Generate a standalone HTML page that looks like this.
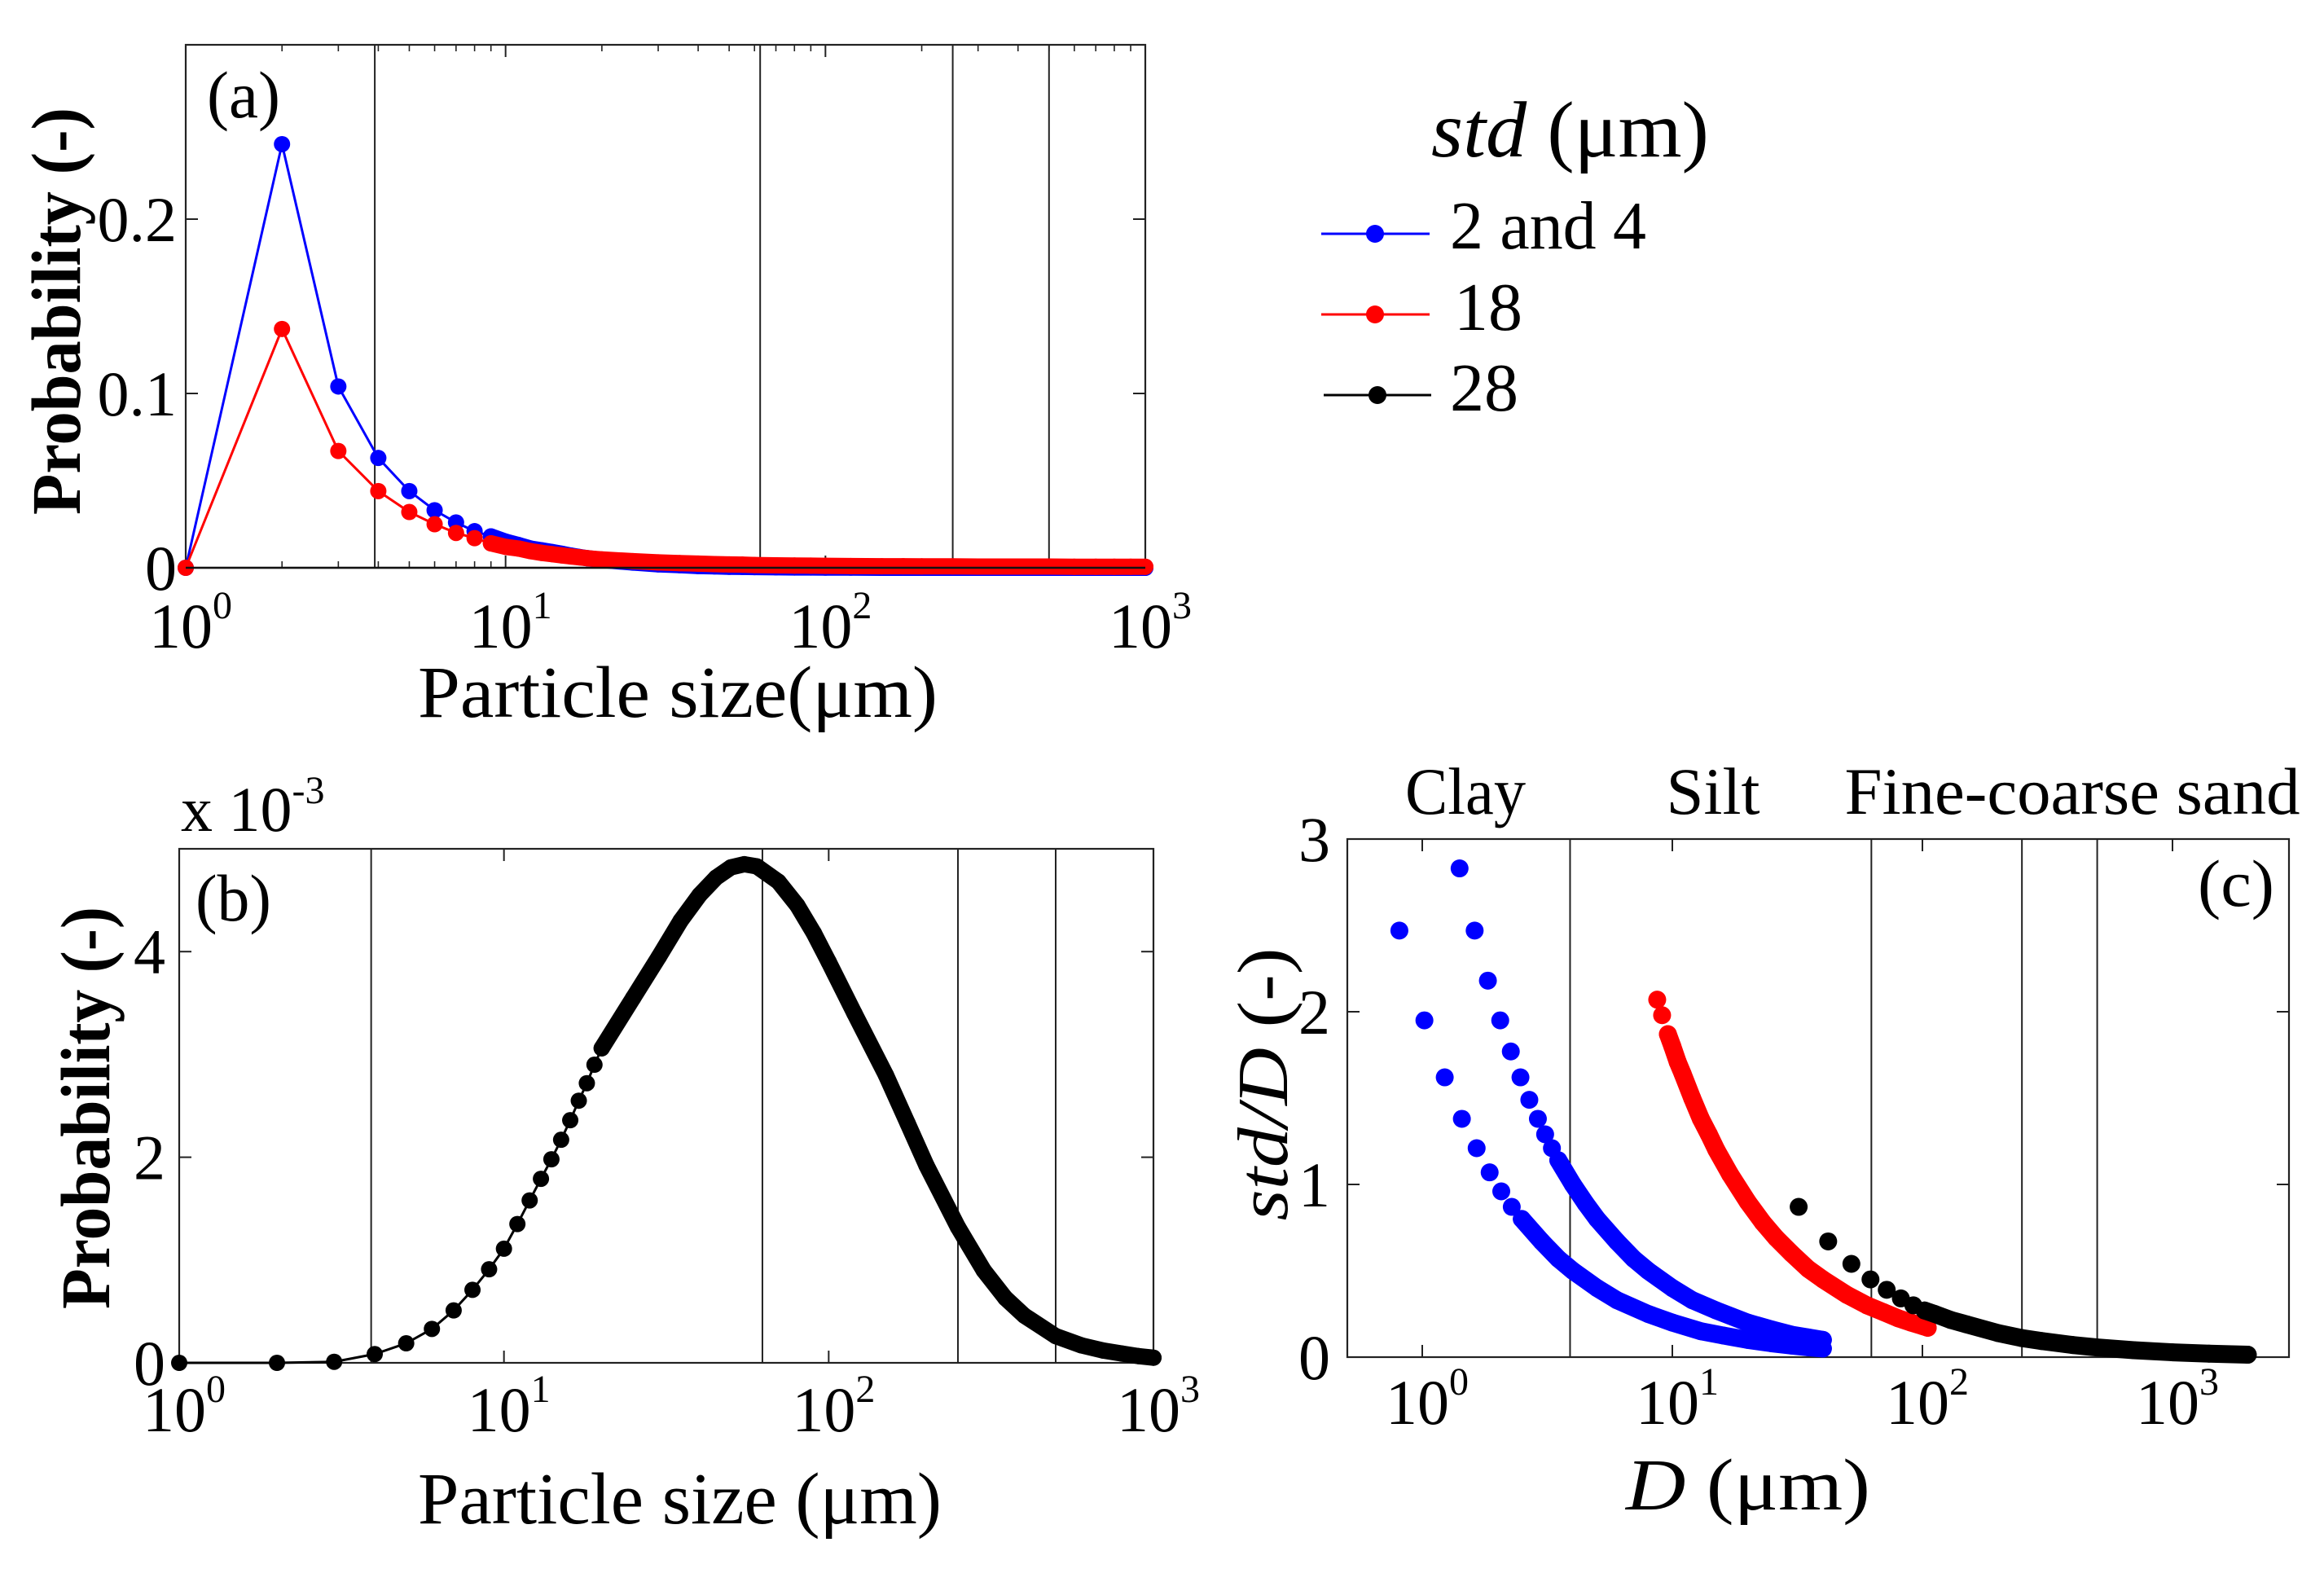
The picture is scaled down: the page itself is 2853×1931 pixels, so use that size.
<!DOCTYPE html>
<html><head><meta charset="utf-8"><style>
html,body{margin:0;padding:0;background:#fff;}
svg{display:block;font-family:"Liberation Serif",serif;}
</style></head><body>
<svg id="fig" width="2853" height="1931" viewBox="0 0 2853 1931" xmlns="http://www.w3.org/2000/svg">
<rect x="0" y="0" width="2853" height="1931" fill="#fff"/>
<g id="pa"></g>
<g id="pb"></g>
<g id="pc"></g>
<g id="legend">
  <text x="1757" y="192" font-size="98" textLength="341" lengthAdjust="spacingAndGlyphs"><tspan font-style="italic">std</tspan> (μm)</text>
  <g>
    <line x1="1622" y1="287" x2="1755" y2="287" stroke="#0000ff" stroke-width="3"/>
    <circle cx="1688" cy="287" r="11" fill="#0000ff"/>
    <text x="1780" y="305" font-size="84" textLength="241" lengthAdjust="spacingAndGlyphs">2 and 4</text>
  </g>
  <g>
    <line x1="1622" y1="386" x2="1755" y2="386" stroke="#ff0000" stroke-width="3"/>
    <circle cx="1688" cy="386" r="11" fill="#ff0000"/>
    <text x="1785" y="405" font-size="84">18</text>
  </g>
  <g>
    <line x1="1625" y1="485" x2="1757" y2="485" stroke="#000" stroke-width="3"/>
    <circle cx="1691" cy="485" r="11" fill="#000"/>
    <text x="1780" y="504" font-size="84">28</text>
  </g>
</g>
</svg>
<script>
// ---------- data ----------
const classBounds = [3.9, 62.5, 250, 500];
const sizeGrid = [1,2,3,4,5,6,7,8,9,10,11,12,13,14,15,16,17,18,19,20,25,30,35,40,45,50,55,60,70,80,90,100,120,150,175,200,250,300,350,400,500,600,700,800,900,1000];
const probBlue = [0,0.243,0.104,0.063,0.044,0.033,0.026,0.021,0.018,0.015,0.013,0.011,0.010,0.009,0.008,0.007,0.0062,0.0055,0.005,0.0045,0.003,0.002,0.0015,0.001,0.0008,0.0006,0.0005,0.0004,0.0003,0.0002,0.0002,0.0001,0.0001,0,0,0,0,0,0,0,0,0,0,0,0,0];
const probRed = [0,0.137,0.067,0.044,0.032,0.025,0.020,0.017,0.014,0.012,0.011,0.0095,0.0085,0.0078,0.0071,0.0065,0.006,0.0055,0.0051,0.0048,0.0038,0.0031,0.0027,0.0024,0.0021,0.0019,0.0018,0.0016,0.0014,0.0013,0.0012,0.0011,0.001,0.0009,0.0009,0.0008,0.0008,0.0007,0.0007,0.0007,0.0007,0.0006,0.0006,0.0006,0.0006,0.0006];
const probBlackE3 = [0,0,0.01,0.085,0.19,0.33,0.51,0.71,0.91,1.11,1.35,1.58,1.79,1.98,2.17,2.36,2.55,2.72,2.90,3.06,3.55,3.95,4.3,4.55,4.72,4.82,4.85,4.83,4.68,4.45,4.18,3.9,3.4,2.8,2.33,1.92,1.32,0.9,0.63,0.46,0.26,0.17,0.12,0.09,0.065,0.05];
const cBlueLowD = [0.81,1.02,1.23,1.44,1.65,1.86,2.07,2.28,2.5,3,3.5,4,5,6,8,10,13,16,20,25,30,35,40];
const cBlueLowV = [2.47,1.95,1.62,1.38,1.21,1.07,0.96,0.87,0.8,0.67,0.57,0.5,0.4,0.33,0.25,0.2,0.15,0.125,0.1,0.08,0.067,0.057,0.05];
const cBlueHighD = [1.41,1.62,1.83,2.05,2.26,2.47,2.68,2.9,3.1,3.3,3.5,4,4.5,5,6,7,8,10,12,15,20,25,30,35,40];
const cBlueHighV = [2.83,2.47,2.18,1.95,1.77,1.62,1.49,1.38,1.29,1.21,1.14,1.0,0.89,0.8,0.67,0.57,0.5,0.4,0.33,0.27,0.2,0.16,0.13,0.114,0.1];
const cRedD = [8.7,9.1,9.6,10,10.5,11,12,13,14,15,17,20,23,26,30,35,40,50,60,70,80,90,100,105];
const cRedV = [2.07,1.98,1.87,1.8,1.71,1.64,1.5,1.38,1.29,1.2,1.06,0.9,0.78,0.69,0.6,0.51,0.45,0.36,0.3,0.26,0.225,0.2,0.18,0.17];
const cBlackD = [32,42,52,62,72,82,92,102,112,130,150,200,250,300,400,500,700,1000,1400,2000];
const cBlackV = [0.87,0.67,0.54,0.45,0.39,0.34,0.30,0.27,0.25,0.215,0.19,0.14,0.11,0.093,0.07,0.056,0.04,0.028,0.02,0.014];
const yTicksA = [0, 0.1, 0.2];
const yTickLabelsA = ["0", "0.1", "0.2"];
const yTicksB = [0, 2, 4];
const yTicksC = [0, 1, 2, 3];
const decadeExps = [0, 1, 2, 3];

// ---------- helpers ----------
const NS = "http://www.w3.org/2000/svg";
function mk(parent, tag, attrs, text) {
  const e = document.createElementNS(NS, tag);
  for (const k in attrs) e.setAttribute(k, attrs[k]);
  if (text !== undefined) e.textContent = text;
  parent.appendChild(e);
  return e;
}
function logAxis(p0, p1, lo, hi) {
  const a = Math.log10(lo), b = Math.log10(hi);
  return v => p0 + (Math.log10(v) - a) / (b - a) * (p1 - p0);
}
function linAxis(p0, p1, lo, hi) { return v => p0 + (v - lo) / (hi - lo) * (p1 - p0); }

function drawFrame(g, F, sx, sy, yTicks, yLabels, xLo, xHi, minor, yLabelRight, xLabBase) {
  const fr = mk(g, "rect", {x:F.x0, y:F.y0, width:F.x1-F.x0, height:F.y1-F.y0, fill:"none", stroke:"#222", "stroke-width":2.2});
  
  
  classBounds.forEach(b => {
    const l = mk(g, "line", {x1:sx(b), x2:sx(b), y1:F.y0, y2:F.y1, stroke:"#222", "stroke-width":2});
    
    
  });
  yTicks.forEach((t, i) => {
    const y = sy(t);
    mk(g, "line", {x1:F.x0, x2:F.x0+15, y1:y, y2:y, stroke:"#222", "stroke-width":2});
    mk(g, "line", {x1:F.x1, x2:F.x1-15, y1:y, y2:y, stroke:"#222", "stroke-width":2});
    const tx = mk(g, "text", {x:yLabelRight, y:y+27, "font-size":78, "text-anchor":"end"}, yLabels[i]);
    
    
  });
  decadeExps.forEach(e => {
    const v = Math.pow(10, e);
    if (v < xLo * 0.999 || v > xHi * 1.001) return;
    const x = sx(v);
    mk(g, "line", {x1:x, x2:x, y1:F.y1, y2:F.y1-15, stroke:"#222", "stroke-width":2});
    mk(g, "line", {x1:x, x2:x, y1:F.y0, y2:F.y0+15, stroke:"#222", "stroke-width":2});
    const tx = mk(g, "text", {x:x+6, y:xLabBase, "font-size":78, "text-anchor":"middle"});
    
    
    mk(tx, "tspan", {}, "10");
    mk(tx, "tspan", {"font-size":48, dy:-36}, String(e));
    if (minor) {
      for (let m = 2; m <= 9; m++) {
        const mv = v * m;
        if (mv > xHi) break;
        const mx = sx(mv);
        mk(g, "line", {x1:mx, x2:mx, y1:F.y1, y2:F.y1-8, stroke:"#222", "stroke-width":1.6});
        mk(g, "line", {x1:mx, x2:mx, y1:F.y0, y2:F.y0+8, stroke:"#222", "stroke-width":1.6});
      }
    }
  });
}

function drawSeries(g, name, xs, ys, sx, sy, color, r, connect, denseFrom) {
  const s = mk(g, "g", {});
  
  
  const pts = xs.map((x, i) => [sx(x), sy(ys[i])]);
  if (connect) {
    mk(s, "polyline", {points: pts.map(p => p.join(",")).join(" "), fill:"none", stroke:color, "stroke-width":3});
  }
  const band = [];
  xs.forEach((x, i) => { if (x >= denseFrom) band.push(pts[i]); });
  if (band.length > 1) {
    mk(s, "polyline", {points: band.map(p => p.join(",")).join(" "), fill:"none", stroke:color, "stroke-width":2*r, "stroke-linecap":"round", "stroke-linejoin":"round"});
  }
  pts.forEach(p => {
    const c = mk(s, "circle", {cx:p[0], cy:p[1], r:r, fill:color});
    
    
  });
}

// ---------- panel a ----------
{
  const g = document.getElementById("pa");
  const F = {x0:228, x1:1406, y0:55, y1:697};
  const sx = logAxis(F.x0, F.x1, 1, 1000), sy = linAxis(F.y1, F.y0, 0, 0.3);
  drawFrame(g, F, sx, sy, yTicksA, yTickLabelsA, 1, 1000, true, 217, 795);
  drawSeries(g, "series-std-2-and-4", sizeGrid, probBlue, sx, sy, "#0000ff", 10, true, 9);
  drawSeries(g, "series-std-18", sizeGrid, probRed, sx, sy, "#ff0000", 10, true, 9);
  mk(g, "line", {x1:F.x0, x2:F.x1, y1:F.y1, y2:F.y1, stroke:"#111", "stroke-width":2.5});
  const pl = mk(g, "text", {x:254, y:144, "font-size":82, textLength:90, lengthAdjust:"spacingAndGlyphs"}, "(a)");
  
  
  const yl = mk(g, "text", {x:0, y:0, "font-size":86, "font-weight":"bold", "text-anchor":"middle", textLength:500, lengthAdjust:"spacingAndGlyphs", transform:"translate(98,382) rotate(-90)"}, "Probability (-)");
  
  
  const xl = mk(g, "text", {x:513, y:880, "font-size":90, textLength:638, lengthAdjust:"spacingAndGlyphs"}, "Particle size(μm)");
  
  
}

// ---------- panel b ----------
{
  const g = document.getElementById("pb");
  const F = {x0:220, x1:1416, y0:1042, y1:1673};
  const sx = logAxis(F.x0, F.x1, 1, 1000), sy = linAxis(F.y1, F.y0, 0, 5);
  drawFrame(g, F, sx, sy, yTicksB, yTicksB.map(String), 1, 1000, false, 203, 1757);
  drawSeries(g, "series-std-28", sizeGrid, probBlackE3, sx, sy, "#000", 10, true, 20);
  const ex = mk(g, "text", {x:222, y:1020, "font-size":78});
  
  
  mk(ex, "tspan", {}, "x 10");
  mk(ex, "tspan", {"font-size":48, dy:-34}, "-3");
  const pl = mk(g, "text", {x:240, y:1130, "font-size":82, textLength:93, lengthAdjust:"spacingAndGlyphs"}, "(b)");
  
  
  const yl = mk(g, "text", {x:0, y:0, "font-size":86, "font-weight":"bold", "text-anchor":"middle", textLength:494, lengthAdjust:"spacingAndGlyphs", transform:"translate(134,1360) rotate(-90)"}, "Probability (-)");
  
  
  const xl = mk(g, "text", {x:513, y:1870, "font-size":90, textLength:643, lengthAdjust:"spacingAndGlyphs"}, "Particle size (μm)");
  
  
}

// ---------- panel c ----------
{
  const g = document.getElementById("pc");
  const F = {x0:1654, x1:2810, y0:1030, y1:1666};
  const lo = Math.pow(10, (1654-1746)/307), hi = Math.pow(10, (2810-1746)/307);
  const sx = logAxis(F.x0, F.x1, lo, hi), sy = linAxis(F.y1, F.y0, 0, 3);
  drawFrame(g, F, sx, sy, yTicksC, yTicksC.map(String), lo, hi, false, 1633, 1748);
  drawSeries(g, "series-std-2", cBlueLowD, cBlueLowV, sx, sy, "#0000ff", 11, false, 2.4);
  drawSeries(g, "series-std-4", cBlueHighD, cBlueHighV, sx, sy, "#0000ff", 11, false, 3.4);
  drawSeries(g, "series-std-18", cRedD, cRedV, sx, sy, "#ff0000", 11, false, 9.5);
  drawSeries(g, "series-std-28", cBlackD, cBlackV, sx, sy, "#000", 11, false, 95);
  [["Clay",1799,"category-clay",148],["Silt",2103,"category-silt",115],["Fine-coarse sand",2544,"category-sand",559]].forEach(c => {
    const t = mk(g, "text", {x:c[1], y:999, "font-size":82, "text-anchor":"middle", textLength:c[3], lengthAdjust:"spacingAndGlyphs"}, c[0]);
    
    
  });
  const pl = mk(g, "text", {x:2698, y:1112, "font-size":82, textLength:94, lengthAdjust:"spacingAndGlyphs"}, "(c)");
  
  
  const yl = mk(g, "text", {x:0, y:0, "font-size":88, "text-anchor":"middle", textLength:335, lengthAdjust:"spacingAndGlyphs", transform:"translate(1580,1331) rotate(-90)"});
  
  
  mk(yl, "tspan", {"font-style":"italic"}, "std/D");
  mk(yl, "tspan", {}, " (-)");
  const xl = mk(g, "text", {x:1996, y:1853, "font-size":90, textLength:300, lengthAdjust:"spacingAndGlyphs"});
  
  
  mk(xl, "tspan", {"font-style":"italic"}, "D");
  mk(xl, "tspan", {}, " (μm)");
}
</script>
</body></html>
